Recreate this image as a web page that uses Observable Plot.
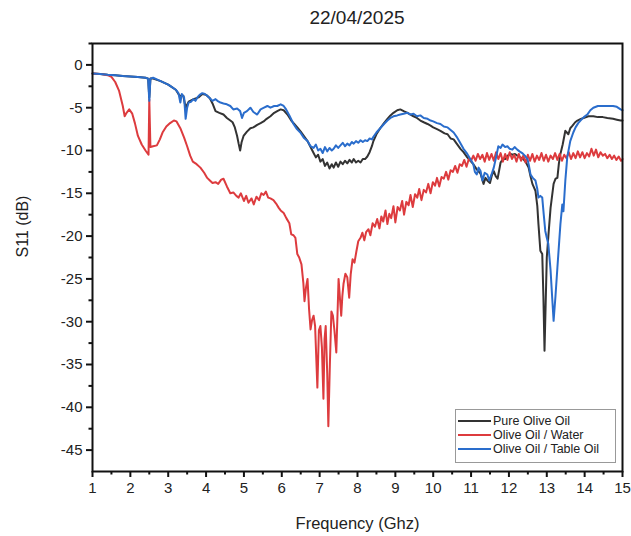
<!DOCTYPE html>
<html>
<head>
<meta charset="utf-8">
<script src="https://cdn.jsdelivr.net/npm/d3@7"></script>
<script src="https://cdn.jsdelivr.net/npm/@observablehq/plot@0.6"></script>
<style>
  html, body { margin: 0; padding: 0; background: #fff; }
  #wrap { position: relative; width: 631px; height: 536px; font-family: "Liberation Sans", Arial, sans-serif; }
  #title { position: absolute; left: 92px; width: 530px; top: 7px; text-align: center; font-size: 19px; color: #222; }
  #legend { position: absolute; left: 455px; top: 409px; width: 161px; height: 54px; border: 1px solid #999; background: #fff; box-sizing: border-box; font-size: 12.5px; color: #222; }
  .li { position: absolute; left: 2px; height: 14px; display: flex; align-items: center; white-space: nowrap; }
  .sw { width: 33px; height: 2.5px; margin-right: 2px; }
</style>
</head>
<body>
<div id="wrap">
  <div id="title">22/04/2025</div>
  <div id="chart"></div>
  <div id="legend"></div>
</div>
<script>
// ---- Data ----
const seriesNames = ["Pure Olive Oil", "Olive Oil / Water", "Olive Oil / Table Oil"];
const seriesColors = ["#333333", "#dd3b3e", "#2a6dcc"];

const freqPure = [1.0,1.2,1.4,1.6,1.8,2.0,2.2,2.4,2.47,2.5,2.53,2.6,2.8,3.0,3.2,3.3,3.4,3.46,3.54,3.67,3.8,3.9,4.0,4.1,4.17,4.25,4.35,4.46,4.55,4.64,4.7,4.76,4.82,4.86,4.9,4.94,4.99,5.08,5.17,5.25,5.35,5.44,5.52,5.6,5.7,5.8,5.88,5.97,6.05,6.15,6.25,6.33,6.41,6.5,6.58,6.68,6.76,6.84,6.9,6.96,7.02,7.08,7.14,7.2,7.26,7.32,7.37,7.43,7.49,7.55,7.61,7.67,7.73,7.79,7.85,7.9,7.96,8.02,8.08,8.14,8.2,8.26,8.32,8.38,8.42,8.5,8.6,8.7,8.79,8.87,8.95,9.05,9.13,9.22,9.32,9.4,9.48,9.57,9.66,9.75,9.85,9.93,10.0,10.1,10.19,10.3,10.38,10.46,10.54,10.62,10.72,10.8,10.9,10.98,11.06,11.15,11.25,11.33,11.38,11.43,11.5,11.55,11.6,11.65,11.7,11.78,11.84,11.9,11.97,12.04,12.1,12.16,12.22,12.3,12.38,12.45,12.52,12.57,12.62,12.7,12.75,12.78,12.83,12.88,12.91,12.94,12.97,13.0,13.05,13.1,13.18,13.23,13.28,13.32,13.36,13.42,13.49,13.53,13.57,13.62,13.68,13.75,13.81,13.9,13.97,14.1,14.23,14.35,14.48,14.6,14.75,14.85,14.95,15.0];
const s11Pure = [-1.0,-1.05,-1.15,-1.2,-1.3,-1.35,-1.4,-1.5,-1.6,-3.8,-1.6,-1.6,-1.9,-2.3,-2.9,-3.6,-3.6,-5.0,-4.3,-4.0,-3.8,-3.4,-3.5,-3.9,-4.5,-5.4,-5.6,-5.8,-6.2,-6.5,-6.7,-7.3,-8.3,-9.2,-10.0,-9.0,-8.3,-7.8,-7.4,-7.3,-7.0,-6.8,-6.6,-6.3,-6.0,-5.6,-5.4,-5.2,-5.3,-5.8,-6.5,-6.9,-7.3,-7.8,-8.3,-8.9,-9.6,-10.3,-10.8,-10.5,-11.3,-11.0,-11.8,-11.4,-12.1,-11.6,-12.0,-11.4,-11.9,-11.3,-11.6,-11.2,-11.5,-11.1,-11.4,-11.0,-11.4,-11.2,-11.4,-11.0,-11.0,-10.7,-10.2,-9.5,-8.9,-8.1,-7.4,-6.8,-6.3,-5.9,-5.6,-5.3,-5.2,-5.4,-5.6,-5.8,-6.0,-6.2,-6.5,-6.7,-6.9,-7.1,-7.3,-7.5,-7.7,-8.0,-8.1,-8.6,-8.7,-9.2,-9.8,-10.2,-10.8,-11.2,-11.6,-12.2,-12.7,-13.9,-13.2,-13.5,-13.8,-12.9,-12.4,-13.0,-13.3,-11.4,-11.0,-11.0,-10.6,-10.4,-10.5,-10.4,-10.6,-10.8,-11.0,-11.4,-12.0,-13.0,-13.9,-14.7,-16.5,-18.6,-21.7,-22.1,-27.0,-33.4,-28.0,-22.5,-19.5,-16.7,-13.9,-13.3,-13.2,-11.5,-10.4,-9.3,-7.7,-7.9,-8.1,-7.4,-7.1,-6.7,-6.5,-6.3,-6.2,-6.0,-6.0,-6.1,-6.1,-6.2,-6.3,-6.4,-6.5,-6.5];

const freqWater = [1.0,1.2,1.4,1.5,1.6,1.7,1.8,1.85,1.9,1.97,2.05,2.12,2.2,2.3,2.4,2.48,2.5,2.53,2.6,2.7,2.78,2.85,2.95,3.05,3.15,3.22,3.32,3.42,3.5,3.58,3.65,3.75,3.85,3.95,4.03,4.1,4.17,4.25,4.32,4.4,4.46,4.55,4.64,4.72,4.8,4.86,4.92,5.0,5.06,5.12,5.2,5.26,5.33,5.4,5.46,5.52,5.58,5.64,5.7,5.78,5.85,5.92,5.97,6.05,6.12,6.2,6.25,6.31,6.36,6.41,6.46,6.52,6.57,6.6,6.64,6.68,6.72,6.76,6.8,6.84,6.88,6.94,6.98,7.02,7.06,7.1,7.13,7.16,7.2,7.23,7.27,7.31,7.35,7.39,7.44,7.48,7.5,7.54,7.57,7.6,7.63,7.68,7.73,7.78,7.82,7.87,7.92,7.97,8.02,8.08,8.13,8.18,8.23,8.29,8.34,8.4,8.46,8.52,8.58,8.63,8.68,8.74,8.79,8.84,8.89,8.95,9.0,9.06,9.12,9.18,9.23,9.29,9.35,9.4,9.46,9.52,9.58,9.63,9.69,9.75,9.81,9.87,9.93,9.99,10.05,10.1,10.16,10.22,10.28,10.34,10.4,10.46,10.52,10.58,10.64,10.7,10.76,10.82,10.88,10.94,11.0,11.06,11.12,11.18,11.24,11.3,11.36,11.42,11.48,11.54,11.6,11.66,11.72,11.78,11.84,11.9,11.96,12.02,12.08,12.14,12.2,12.26,12.32,12.38,12.44,12.5,12.56,12.62,12.68,12.74,12.8,12.86,12.92,12.98,13.04,13.1,13.16,13.22,13.28,13.34,13.4,13.46,13.52,13.58,13.64,13.7,13.76,13.82,13.88,13.94,14.0,14.06,14.12,14.18,14.24,14.3,14.36,14.42,14.48,14.54,14.6,14.66,14.72,14.78,14.84,14.9,14.96,15.0];
const s11Water = [-1.0,-1.05,-1.2,-1.4,-2.0,-3.0,-4.8,-6.0,-5.6,-5.2,-5.7,-6.8,-8.3,-9.3,-10.0,-10.5,-4.0,-9.6,-9.5,-9.4,-8.7,-7.9,-7.2,-6.8,-6.5,-6.6,-7.4,-8.5,-9.5,-10.6,-11.3,-11.6,-12.0,-12.6,-13.2,-13.5,-13.8,-13.7,-13.9,-13.4,-13.3,-14.2,-15.0,-14.9,-15.3,-15.5,-15.0,-15.9,-15.3,-16.1,-15.6,-16.3,-15.4,-15.8,-15.0,-15.2,-14.8,-15.5,-15.6,-15.8,-16.2,-16.7,-17.0,-17.3,-17.9,-18.5,-19.8,-19.9,-20.2,-22.1,-22.5,-23.3,-25.5,-27.6,-26.0,-25.0,-28.5,-30.9,-29.8,-29.3,-30.5,-37.7,-31.0,-30.5,-33.0,-39.0,-32.0,-30.5,-36.0,-42.2,-35.0,-28.8,-29.3,-31.0,-33.6,-28.0,-25.0,-27.5,-29.3,-27.0,-25.6,-24.4,-24.8,-27.2,-24.5,-22.7,-23.1,-21.8,-20.6,-20.2,-19.6,-20.5,-19.5,-19.2,-19.9,-18.5,-18.9,-18.0,-19.1,-17.7,-18.3,-17.0,-18.6,-17.4,-17.9,-16.5,-18.4,-16.6,-17.0,-15.9,-17.5,-16.0,-16.4,-15.2,-16.6,-15.1,-15.5,-14.5,-15.8,-14.6,-14.9,-13.9,-15.0,-13.7,-14.1,-13.2,-14.2,-13.1,-13.3,-12.5,-13.4,-12.3,-12.5,-11.8,-12.6,-11.6,-11.8,-11.1,-11.9,-11.0,-11.2,-10.6,-11.2,-10.4,-11.0,-10.5,-11.3,-10.3,-11.1,-10.4,-11.2,-10.2,-11.0,-10.3,-11.3,-10.4,-11.1,-10.2,-11.0,-10.5,-11.3,-10.4,-11.2,-10.6,-11.4,-10.5,-11.2,-10.4,-11.3,-10.6,-11.1,-10.3,-11.2,-10.5,-11.3,-10.6,-11.0,-10.3,-11.1,-10.4,-11.2,-10.5,-10.9,-10.2,-11.0,-10.3,-10.9,-10.1,-10.8,-10.2,-10.9,-10.3,-10.7,-9.8,-10.6,-9.9,-10.8,-10.2,-10.6,-10.4,-10.9,-10.5,-11.0,-10.6,-11.1,-10.7,-11.2,-11.0];

const freqTable = [1.0,1.2,1.4,1.6,1.8,2.0,2.2,2.4,2.47,2.5,2.53,2.6,2.7,2.8,2.9,3.0,3.1,3.2,3.27,3.32,3.36,3.42,3.46,3.5,3.54,3.6,3.67,3.72,3.77,3.83,3.9,3.97,4.03,4.1,4.17,4.25,4.3,4.38,4.46,4.55,4.64,4.72,4.82,4.9,4.95,5.0,5.08,5.17,5.25,5.35,5.44,5.53,5.62,5.7,5.8,5.88,5.97,6.05,6.1,6.2,6.31,6.4,6.49,6.58,6.68,6.76,6.84,6.9,6.96,7.02,7.08,7.14,7.2,7.26,7.32,7.37,7.43,7.49,7.55,7.61,7.67,7.73,7.79,7.85,7.9,7.96,8.02,8.08,8.14,8.2,8.26,8.32,8.38,8.42,8.5,8.6,8.7,8.79,8.87,8.95,9.05,9.13,9.22,9.32,9.4,9.48,9.57,9.66,9.75,9.85,9.93,10.0,10.1,10.19,10.28,10.38,10.46,10.54,10.62,10.7,10.8,10.9,10.98,11.06,11.1,11.15,11.2,11.25,11.3,11.36,11.43,11.48,11.54,11.6,11.66,11.72,11.78,11.83,11.9,11.96,12.02,12.09,12.15,12.22,12.28,12.35,12.42,12.49,12.53,12.57,12.63,12.7,12.75,12.78,12.83,12.88,12.92,12.96,13.0,13.04,13.1,13.14,13.18,13.23,13.28,13.33,13.36,13.41,13.44,13.49,13.54,13.62,13.7,13.76,13.83,13.89,13.98,14.07,14.15,14.23,14.35,14.49,14.6,14.75,14.85,14.95,15.0];
const s11Table = [-1.0,-1.05,-1.15,-1.2,-1.3,-1.35,-1.4,-1.5,-1.6,-4.2,-1.6,-1.5,-1.7,-1.9,-2.1,-2.3,-2.6,-2.9,-3.3,-4.4,-3.4,-3.8,-6.3,-5.0,-4.4,-4.3,-4.0,-4.2,-3.8,-3.5,-3.3,-3.4,-3.6,-3.9,-4.2,-4.0,-4.2,-4.4,-4.5,-4.6,-4.8,-5.2,-5.1,-5.4,-6.2,-5.6,-5.4,-5.0,-5.5,-5.8,-5.2,-5.0,-4.8,-5.0,-4.8,-4.8,-4.6,-4.8,-5.1,-5.9,-6.9,-7.5,-7.9,-8.5,-8.9,-9.5,-9.7,-9.3,-10.0,-9.8,-10.3,-9.6,-10.1,-9.7,-10.0,-9.8,-9.4,-9.7,-9.4,-9.1,-9.5,-9.2,-9.4,-9.0,-9.2,-8.9,-9.1,-8.8,-9.0,-8.8,-8.9,-8.6,-8.7,-8.4,-7.9,-7.4,-6.9,-6.5,-6.2,-6.0,-5.9,-5.8,-5.7,-5.6,-5.8,-5.7,-6.0,-5.9,-6.2,-6.3,-6.5,-6.6,-6.8,-6.9,-7.2,-7.3,-7.6,-7.9,-8.4,-9.0,-9.8,-10.4,-11.0,-11.6,-12.5,-12.8,-12.0,-12.4,-13.5,-12.6,-12.8,-13.5,-12.8,-12.0,-10.8,-9.5,-9.7,-9.3,-9.6,-9.5,-9.8,-9.9,-9.6,-9.9,-10.1,-10.3,-10.6,-11.0,-11.8,-12.8,-13.2,-13.5,-14.5,-15.5,-15.3,-15.5,-17.5,-19.4,-20.2,-20.9,-24.0,-27.0,-29.9,-27.0,-23.7,-20.5,-18.6,-16.3,-17.1,-13.5,-10.8,-8.9,-7.9,-7.3,-6.8,-6.5,-6.1,-5.8,-5.3,-5.0,-4.8,-4.8,-4.8,-4.8,-4.9,-5.2,-5.3];

const xMajorTicks = [1,2,3,4,5,6,7,8,9,10,11,12,13,14,15];
const yMajorTicks = [0,-5,-10,-15,-20,-25,-30,-35,-40,-45];

// ---- Build table ----
const freqs = [freqPure, freqWater, freqTable];
const vals = [s11Pure, s11Water, s11Table];
const rows = [];
seriesNames.forEach((name, i) => {
  freqs[i].forEach((f, j) => rows.push({series: name, f, v: vals[i][j]}));
});

const xMinor = xMajorTicks.slice(0, -1).map(t => t + 0.5);
const yMinor = yMajorTicks.map(t => t + 2.5);

const chart = Plot.plot({
  width: 631,
  height: 536,
  marginLeft: 92,
  marginRight: 9,
  marginTop: 43,
  marginBottom: 65,
  style: {fontFamily: "'Liberation Sans', Arial, sans-serif", fontSize: "15px", color: "#222", background: "#fff"},
  x: {domain: [1, 15]},
  y: {domain: [-47.5, 2.5]},
  color: {domain: seriesNames, range: seriesColors},
  marks: [
    Plot.line(rows, {x: "f", y: "v", z: "series", stroke: "series", strokeWidth: 2, curve: "linear"}),
    Plot.frame({stroke: "#111", strokeWidth: 2}),
    Plot.axisX({ticks: xMajorTicks, tickSize: 6, tickPadding: 5, tickFormat: d => String(d), label: null, stroke: "#111", strokeWidth: 2}),
    Plot.axisX({ticks: xMinor, tickSize: 3.5, tickFormat: () => "", label: null, stroke: "#111", strokeWidth: 2}),
    Plot.axisY({ticks: yMajorTicks, tickSize: 6, tickPadding: 4, tickFormat: d => String(d), label: null, stroke: "#111", strokeWidth: 2}),
    Plot.axisY({ticks: yMinor, tickSize: 3.5, tickFormat: () => "", label: null, stroke: "#111", strokeWidth: 2}),
    Plot.text(["Frequency (Ghz)"], {frameAnchor: "bottom", dy: 52, text: d => d, fontSize: 16.5, fill: "#222", lineAnchor: "middle"}),
    Plot.text(["S11 (dB)"], {frameAnchor: "left", dx: -70, rotate: -90, text: d => d, fontSize: 16, fill: "#222", lineAnchor: "middle"})
  ]
});
document.getElementById("chart").appendChild(chart);

// ---- Legend ----
const legend = document.getElementById("legend");
const tops = [4, 18, 32];
seriesNames.forEach((name, i) => {
  const row = document.createElement("div");
  row.className = "li";
  row.style.top = tops[i] + "px";
  const sw = document.createElement("div");
  sw.className = "sw";
  sw.style.background = seriesColors[i];
  const tx = document.createElement("span");
  tx.textContent = name;
  row.appendChild(sw);
  row.appendChild(tx);
  legend.appendChild(row);
});
</script>
</body>
</html>
